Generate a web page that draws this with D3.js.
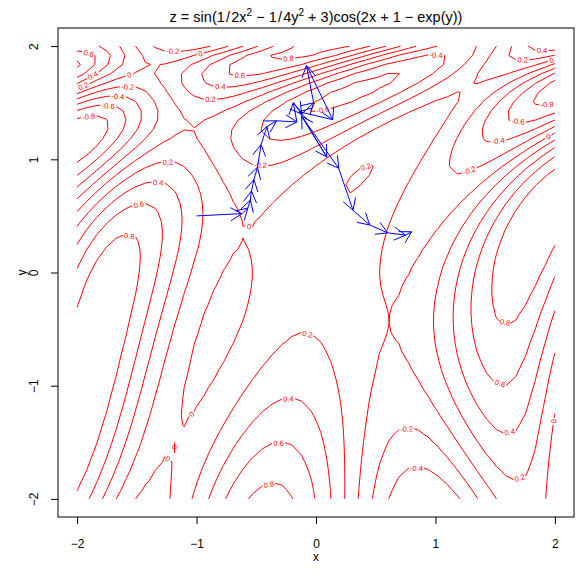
<!DOCTYPE html>
<html>
<head>
<meta charset="utf-8">
<script src="https://cdn.jsdelivr.net/npm/d3@7"></script>
<style>
  body { margin: 0; background: #fff; }
  svg { display: block; }
  text { font-family: "Liberation Sans", Arial, sans-serif; fill: #000; }
</style>
</head>
<body>
<div id="chart"></div>
<script>
const WIDTH = 576;
const HEIGHT = 576;

// contour levels and axis ticks
const levels = [-0.8, -0.6, -0.4, -0.2, 0, 0.2, 0.4, 0.6, 0.8];
const xTicks = [-2, -1, 0, 1, 2];
const yTicks = [-2, -1, 0, 1, 2];

// grid the surface is sampled on (50 x 50 points over [-2, 2])
const GRID_N = 50;
const gridX = d3.range(GRID_N).map(i => -2 + 4 * i / (GRID_N - 1));
const gridY = gridX.slice();

// path of the blue arrows
const pathX = [-1.00, -0.62, -0.57, -0.55, -0.54, -0.52, -0.49, -0.46, -0.41, -0.33, -0.16,
               -0.19, -0.12, -0.02, -0.08, 0.14, -0.14, 0.09, -0.12, 0.19, 0.31, 0.45, 0.60, 0.75, 0.80];
const pathY = [0.50, 0.52, 0.57, 0.64, 0.72, 0.82, 0.93, 1.13, 1.29, 1.34, 1.33,
               1.50, 1.40, 1.50, 1.83, 1.35, 1.42, 1.02, 1.38, 0.92, 0.55, 0.42, 0.35, 0.33, 0.36];

// surface from the title
function f(x, y) {
  return Math.sin(x * x / 2 - y * y / 4 + 3) * Math.cos(2 * x + 1 - Math.exp(y));
}

const box = { left: 58, right: 574, top: 28, bottom: 517 };

const x = d3.scaleLinear().domain([-2.16, 2.16]).range([box.left, box.right]);
const y = d3.scaleLinear().domain([-2.16, 2.16]).range([box.bottom, box.top]);

const svg = d3.select("#chart").append("svg")
  .attr("width", WIDTH)
  .attr("height", HEIGHT);

// --------------- marching squares ---------------
const nx = gridX.length, ny = gridY.length;
const zval = [];
for (let j = 0; j < ny; j++)
  for (let i = 0; i < nx; i++)
    zval[j * nx + i] = f(gridX[i], gridY[j]);

function isolines(level) {
  const pts = new Map();
  const adj = new Map();
  const Z = (i, j) => zval[j * nx + i];
  function cross(key, i0, j0, i1, j1) {
    if (!pts.has(key)) {
      const a = Z(i0, j0), b = Z(i1, j1);
      const t = (level - a) / (b - a);
      const gx = gridX[i0] + t * (gridX[i1] - gridX[i0]);
      const gy = gridY[j0] + t * (gridY[j1] - gridY[j0]);
      pts.set(key, [x(gx), y(gy)]);
      adj.set(key, []);
    }
    return key;
  }
  function link(a, b) { adj.get(a).push(b); adj.get(b).push(a); }

  for (let j = 0; j < ny - 1; j++) {
    for (let i = 0; i < nx - 1; i++) {
      const c = [Z(i, j), Z(i + 1, j), Z(i + 1, j + 1), Z(i, j + 1)];
      const up = c.map(v => v >= level);
      const edges = [
        up[0] !== up[1] ? cross("h" + i + "," + j, i, j, i + 1, j) : null,
        up[1] !== up[2] ? cross("v" + (i + 1) + "," + j, i + 1, j, i + 1, j + 1) : null,
        up[2] !== up[3] ? cross("h" + i + "," + (j + 1), i, j + 1, i + 1, j + 1) : null,
        up[3] !== up[0] ? cross("v" + i + "," + j, i, j, i, j + 1) : null
      ];
      const hits = edges.filter(e => e);
      if (hits.length === 2) link(hits[0], hits[1]);
      else if (hits.length === 4) {
        const centerUp = d3.mean(c) >= level;
        for (let k = 0; k < 4; k++) {
          if (up[k] !== centerUp) link(edges[(k + 3) % 4], edges[k]);
        }
      }
    }
  }

  // join segments into polylines
  const seen = new Set();
  const lines = [];
  function walk(start) {
    const line = [start];
    seen.add(start);
    let cur = start;
    while (true) {
      const next = adj.get(cur).find(n => !seen.has(n));
      if (!next) break;
      seen.add(next);
      line.push(next);
      cur = next;
    }
    if (adj.get(cur).includes(start) && line.length > 2) line.push(start);
    return line.map(k => pts.get(k));
  }
  for (const [k, n] of adj) if (n.length === 1 && !seen.has(k)) lines.push(walk(k));
  for (const k of adj.keys()) if (!seen.has(k)) lines.push(walk(k));
  return lines;
}

// --------------- labels ---------------
const measure = document.createElement("canvas").getContext("2d");
const LABEL_FONT = 7.5;
measure.font = LABEL_FONT + "px 'Liberation Sans'";

function fmt(v) { return String(+v.toFixed(1)); }

function cumLen(line) {
  const s = [0];
  for (let k = 1; k < line.length; k++)
    s.push(s[k - 1] + Math.hypot(line[k][0] - line[k - 1][0], line[k][1] - line[k - 1][1]));
  return s;
}

function pointAt(line, s, d) {
  let k = d3.bisectLeft(s, d);
  if (k <= 0) return line[0].slice();
  if (k >= line.length) return line[line.length - 1].slice();
  const t = (d - s[k - 1]) / (s[k] - s[k - 1] || 1);
  return [line[k - 1][0] + t * (line[k][0] - line[k - 1][0]),
          line[k - 1][1] + t * (line[k][1] - line[k - 1][1])];
}

const placed = [];

// "flattest": the stretch of the line whose chord is closest to horizontal
function placeLabel(line, w) {
  const s = cumLen(line);
  const total = s[s.length - 1];
  if (total < w + 2) return null;
  const cands = [];
  for (let i = 0; i < line.length - 1; i++) {
    const s0 = s[i];
    if (s0 + w > total) break;
    const a = line[i];
    const b = pointAt(line, s, s0 + w);
    const dx = b[0] - a[0], dy = b[1] - a[1], L = Math.hypot(dx, dy) || 1;
    let dev = 0;
    for (let k = i + 1; k < line.length && s[k] < s0 + w; k++) {
      const p = line[k];
      dev = Math.max(dev, Math.abs((p[0] - a[0]) * dy - (p[1] - a[1]) * dx) / L);
    }
    const cx = (a[0] + b[0]) / 2, cy = (a[1] + b[1]) / 2;
    if (cx - w / 2 < box.left + 1 || cx + w / 2 > box.right - 1) continue;
    if (cy - 4 < box.top + 1 || cy + 4 > box.bottom - 1) continue;
    cands.push({ s0, a, b, cx, cy, score: Math.abs(dy) + dev * 0.5 + (w - L) });
  }
  cands.sort((p, q) => p.score - q.score);
  for (const c of cands) {
    const clash = placed.some(p => Math.abs(p.cx - c.cx) < (p.w + w) / 2 + 1 && Math.abs(p.cy - c.cy) < 9);
    if (!clash) {
      c.w = w;
      placed.push(c);
      return c;
    }
  }
  return null;
}

function subLine(line, s, from, to) {
  const out = [pointAt(line, s, from)];
  for (let k = 0; k < line.length; k++) if (s[k] > from && s[k] < to) out.push(line[k]);
  out.push(pointAt(line, s, to));
  return out;
}

// --------------- draw contours ---------------
const lineGen = d3.line();
const gContour = svg.append("g");

levels.forEach(level => {
  const label = fmt(level);
  const w = measure.measureText(label).width + 3;
  isolines(level).forEach(line => {
    if (line.length < 2) return;
    const lab = placeLabel(line, w);
    const s = cumLen(line);
    const total = s[s.length - 1];
    let pieces = [line];
    if (lab) {
      pieces = [];
      if (lab.s0 > 0) pieces.push(subLine(line, s, 0, lab.s0));
      if (lab.s0 + w < total) pieces.push(subLine(line, s, lab.s0 + w, total));
      let ang = Math.atan2(lab.b[1] - lab.a[1], lab.b[0] - lab.a[0]) * 180 / Math.PI;
      if (ang > 90) ang -= 180;
      if (ang < -90) ang += 180;
      gContour.append("text")
        .attr("transform", `translate(${lab.cx},${lab.cy}) rotate(${ang})`)
        .attr("text-anchor", "middle")
        .attr("dy", "0.35em")
        .attr("font-size", LABEL_FONT)
        .style("fill", "#ff0000")
        .text(label);
    }
    pieces.forEach(p => {
      gContour.append("path")
        .attr("d", lineGen(p))
        .attr("fill", "none")
        .attr("stroke", "#ff0000")
        .attr("stroke-width", 1);
    });
  });
});

// --------------- arrows ---------------
const HEAD = 13;
const gArrow = svg.append("g")
  .attr("fill", "none")
  .attr("stroke", "#0000ff")
  .attr("stroke-width", 1);

for (let k = 0; k < pathX.length - 1; k++) {
  const x0 = x(pathX[k]), y0 = y(pathY[k]);
  const x1 = x(pathX[k + 1]), y1 = y(pathY[k + 1]);
  const a = Math.atan2(y1 - y0, x1 - x0);
  const h1 = [x1 - HEAD * Math.cos(a - Math.PI / 6), y1 - HEAD * Math.sin(a - Math.PI / 6)];
  const h2 = [x1 - HEAD * Math.cos(a + Math.PI / 6), y1 - HEAD * Math.sin(a + Math.PI / 6)];
  gArrow.append("path")
    .attr("d", `M${x0},${y0}L${x1},${y1}M${h1[0]},${h1[1]}L${x1},${y1}L${h2[0]},${h2[1]}`);
}

// --------------- frame and axes ---------------
svg.append("rect")
  .attr("x", box.left)
  .attr("y", box.top)
  .attr("width", box.right - box.left)
  .attr("height", box.bottom - box.top)
  .attr("fill", "none")
  .attr("stroke", "#000")
  .attr("stroke-width", 1);

const xAxis = svg.append("g")
  .attr("transform", `translate(0,${box.bottom})`)
  .call(d3.axisBottom(x).tickValues(xTicks).tickSize(7).tickPadding(15).tickFormat(d3.format("d")));
xAxis.select(".domain").remove();
xAxis.selectAll("text").attr("font-size", 12).attr("font-family", "Liberation Sans, Arial, sans-serif");

const yAxis = svg.append("g")
  .attr("transform", `translate(${box.left},0)`)
  .call(d3.axisLeft(y).tickValues(yTicks).tickSize(7).tickFormat(d3.format("d")));
yAxis.select(".domain").remove();
yAxis.selectAll("text")
  .attr("font-size", 12)
  .attr("font-family", "Liberation Sans, Arial, sans-serif")
  .attr("text-anchor", "middle")
  .attr("x", null)
  .attr("dy", null)
  .attr("transform", "translate(-24,0) rotate(-90)")
  .attr("y", 4);

svg.append("text")
  .attr("x", (box.left + box.right) / 2)
  .attr("y", 561)
  .attr("text-anchor", "middle")
  .attr("font-size", 12)
  .text("x");

svg.append("text")
  .attr("transform", `translate(26,${(box.top + box.bottom) / 2}) rotate(-90)`)
  .attr("text-anchor", "middle")
  .attr("font-size", 12)
  .text("y");

// title: z = sin(1/2x^2 - 1/4y^2 + 3)cos(2x + 1 - exp(y))
const title = svg.append("text")
  .attr("x", (box.left + box.right) / 2)
  .attr("y", 22)
  .attr("text-anchor", "middle")
  .attr("font-size", 14.5);
const parts = [
  ["z = sin(1\u200a/\u200a2x", 0], ["2", 1], [" \u2212 1\u200a/\u200a4y", 0], ["2", 1],
  [" + 3)cos(2x + 1 \u2212 exp(y))", 0]
];
parts.forEach(([t, sup]) => {
  title.append("tspan")
    .attr("font-size", sup ? 10 : 14.5)
    .attr("dy", sup ? -6 : (t.startsWith(" ") ? 6 : null))
    .text(t);
});
</script>
</body>
</html>
